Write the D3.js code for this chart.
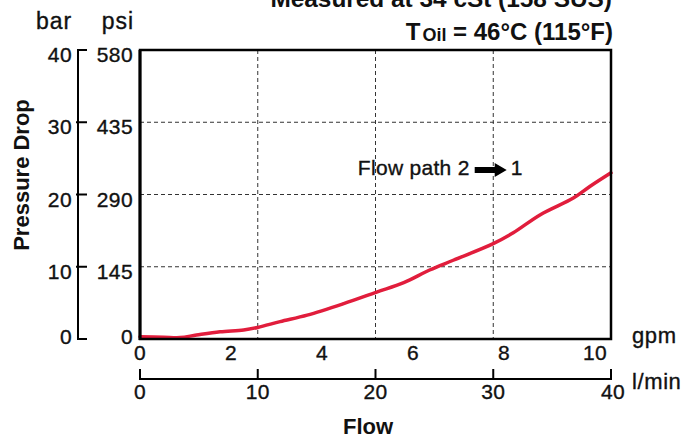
<!DOCTYPE html>
<html>
<head>
<meta charset="utf-8">
<script src="https://cdn.jsdelivr.net/npm/d3@7/dist/d3.min.js"></script>
<style>
  html, body { margin: 0; padding: 0; background: #fff; }
  svg { display: block; }
  text { font-family: "Liberation Sans", Arial, Helvetica, sans-serif; fill: #111; }
  text.reg { stroke: #111; stroke-width: 0.35px; }
</style>
</head>
<body>
<svg id="chart" width="690" height="438"></svg>
<script>
// ---- data ----
const flowLpm      = [0, 2, 3.4, 4.8, 6.8, 8.8, 10.0, 11.9, 14.2, 17.3, 20.1, 22.4, 24.6, 26.6, 30.0, 31.7, 34.0, 36.8, 38.2, 40];
const pressureBar  = [0.3, 0.25, 0.2, 0.55, 1.0, 1.25, 1.6, 2.4, 3.3, 4.9, 6.5, 7.8, 9.55, 10.9, 13.2, 14.7, 17.2, 19.5, 21.1, 23.0];
const barTicks     = [0, 10, 20, 30, 40];
const psiLabels    = ["0", "145", "290", "435", "580"];
const gpmTicks     = [0, 2, 4, 6, 8, 10];
const lpmTicks     = [0, 10, 20, 30, 40];
const gridLpm      = [10, 20, 30];
const gridBar      = [10, 20, 30];
const titleLine1   = "Measured at 34 cSt (158 SUS)";
const annotation   = { text: "Flow path 2", target: "1", lpm: 28.0, bar: 22.7 };

// ---- layout ----
const pL = 140, pR = 611, pT = 50, pB = 339;
const svg = d3.select("#chart");

const x = d3.scaleLinear().domain([0, 40]).range([pL, pR]);      // l/min
const xg = d3.scaleLinear().domain([0, 10.35]).range([pL, pR]);  // gpm labels
const y = d3.scaleLinear().domain([0, 40]).range([pB, pT]);      // bar

// grid
const grid = svg.append("g").attr("stroke", "#333").attr("stroke-width", 1).attr("stroke-dasharray", "4,3");
grid.selectAll("line.v").data(gridLpm).join("line").attr("class", "v")
  .attr("x1", d => x(d)).attr("x2", d => x(d)).attr("y1", pT).attr("y2", pB);
grid.selectAll("line.h").data(gridBar).join("line").attr("class", "h")
  .attr("x1", pL).attr("x2", pR).attr("y1", d => y(d)).attr("y2", d => y(d));

// curve
const pts = flowLpm.map((f, i) => [f, pressureBar[i]]);
svg.append("path").datum(pts)
  .attr("fill", "none").attr("stroke", "#e11d3c").attr("stroke-width", 3.5)
  .attr("stroke-linecap", "round")
  .attr("d", d3.line().x(d => x(d[0])).y(d => y(d[1])).curve(d3.curveCatmullRom.alpha(0.5)));

// frame
svg.append("rect").attr("x", pL).attr("y", pT).attr("width", pR - pL).attr("height", pB - pT)
  .attr("fill", "none").attr("stroke", "#000").attr("stroke-width", 2.5);
svg.append("line").attr("x1", pL).attr("x2", pL).attr("y1", pT).attr("y2", pB + 1)
  .attr("stroke", "#000").attr("stroke-width", 3);

// bar axis
const bx = 78;
svg.append("line").attr("x1", bx).attr("x2", bx).attr("y1", y(40)).attr("y2", y(0))
  .attr("stroke", "#000").attr("stroke-width", 2);
svg.selectAll("line.bt").data(barTicks).join("line").attr("class", "bt")
  .attr("x1", d => (d === 0 || d === 40) ? bx - 1 : bx - 2).attr("x2", bx + 9)
  .attr("y1", d => y(d)).attr("y2", d => y(d)).attr("stroke", "#000").attr("stroke-width", 2);
svg.selectAll("text.bl").data(barTicks).join("text").attr("class", "bl reg")
  .attr("x", 72).attr("y", d => y(d) + (d === 0 ? 5 : 12)).attr("text-anchor", "end")
  .attr("font-size", 21).attr("letter-spacing", 0.4).text(d => d);
svg.selectAll("text.pl").data(barTicks).join("text").attr("class", "pl reg")
  .attr("x", 133).attr("y", d => y(d) + (d === 0 ? 5 : 12)).attr("text-anchor", "end")
  .attr("font-size", 21).attr("letter-spacing", 0.4).text((d, i) => psiLabels[i]);
svg.append("text").attr("class", "reg").attr("x", 54).attr("y", 29).attr("text-anchor", "middle")
  .attr("font-size", 23).attr("letter-spacing", 1).text("bar");
svg.append("text").attr("class", "reg").attr("x", 118).attr("y", 29).attr("text-anchor", "middle")
  .attr("font-size", 23).attr("letter-spacing", 1).text("psi");
svg.append("text").attr("transform", "translate(29,175) rotate(-90)").attr("text-anchor", "middle")
  .attr("font-size", 22).attr("font-weight", "bold").text("Pressure Drop");

// gpm labels
svg.selectAll("text.gl").data(gpmTicks).join("text").attr("class", "gl reg")
  .attr("x", d => xg(d)).attr("y", 360).attr("text-anchor", "middle").attr("font-size", 21)
  .attr("letter-spacing", 0.4).text(d => d);
svg.append("text").attr("class", "reg").attr("x", 632).attr("y", 343).attr("font-size", 22)
  .attr("letter-spacing", 0.6).text("gpm");

// l/min axis
const ly = 379;
svg.append("line").attr("x1", x(0) - 1).attr("x2", x(40) + 1).attr("y1", ly).attr("y2", ly)
  .attr("stroke", "#000").attr("stroke-width", 2);
svg.selectAll("line.lt").data(lpmTicks).join("line").attr("class", "lt")
  .attr("x1", d => x(d)).attr("x2", d => x(d)).attr("y1", ly - 10).attr("y2", ly)
  .attr("stroke", "#000").attr("stroke-width", 2);
svg.selectAll("text.ll").data(lpmTicks).join("text").attr("class", "ll reg")
  .attr("x", d => x(d) + (d === 40 ? 2 : 0)).attr("y", 399).attr("text-anchor", "middle").attr("font-size", 21)
  .attr("letter-spacing", 0.4).text(d => d);
svg.append("text").attr("class", "reg").attr("x", 632).attr("y", 389).attr("font-size", 22)
  .attr("letter-spacing", 0.6).text("l/min");
svg.append("text").attr("x", 368).attr("y", 434).attr("text-anchor", "middle")
  .attr("font-size", 22).attr("font-weight", "bold").text("Flow");

// titles
svg.append("text").attr("x", 612).attr("y", 6.5).attr("text-anchor", "end")
  .attr("font-size", 24.4).attr("font-weight", "bold").text(titleLine1);
const t2 = svg.append("text").attr("x", 613).attr("y", 40).attr("text-anchor", "end")
  .attr("font-size", 24).attr("font-weight", "bold");
t2.append("tspan").text("T");
t2.append("tspan").attr("font-size", 18).attr("dx", 2).attr("dy", 1).text("Oil");
t2.append("tspan").attr("dy", -1).text(" = 46°C (115°F)");

// annotation
const ax = x(annotation.lpm), ay = y(annotation.bar);
svg.append("text").attr("class", "reg").attr("x", ax).attr("y", ay).attr("text-anchor", "end")
  .attr("font-size", 21).attr("letter-spacing", 0.3).text(annotation.text);
const cy = ay - 5;
svg.append("path")
  .attr("d", `M${ax + 5},${cy - 3} L${ax + 25},${cy - 3} L${ax + 25},${cy - 7} L${ax + 37},${cy} L${ax + 25},${cy + 7} L${ax + 25},${cy + 3} L${ax + 5},${cy + 3} Z`)
  .attr("fill", "#000");
svg.append("text").attr("class", "reg").attr("x", ax + 41).attr("y", ay).attr("font-size", 21).text(annotation.target);
</script>
</body>
</html>
